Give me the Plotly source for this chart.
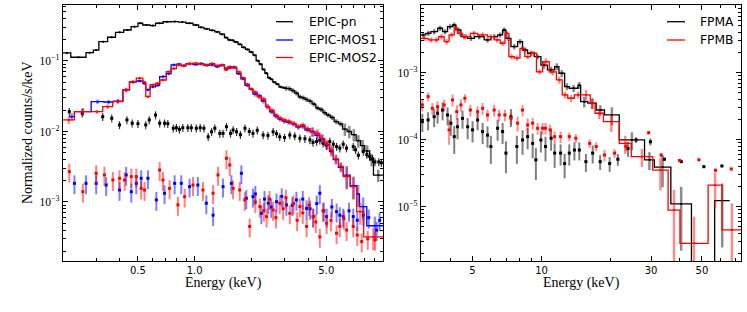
import math
import plotly.graph_objects as go

# ================= LEFT PANEL : XMM-Newton EPIC =================
pn_edges = [0.20, 0.22, 0.265, 0.29, 0.31, 0.345, 0.38, 0.42, 0.46, 0.50,
            0.53, 0.58, 0.62, 0.68, 0.75, 0.82, 0.90, 0.98, 1.05, 1.12,
            1.20, 1.28, 1.36, 1.44, 1.50, 1.56, 1.62, 1.70, 1.78, 1.86,
            1.95, 2.04, 2.12, 2.20, 2.28, 2.36, 2.44, 2.52, 2.60, 2.70,
            2.80, 2.90, 3.00, 3.12, 3.25, 3.40, 3.55, 3.70, 3.85, 4.00,
            4.20, 4.40, 4.60, 4.80, 5.00, 5.25, 5.50, 5.80, 6.10, 6.45,
            6.80, 7.20, 7.60, 8.00, 8.50, 8.90, 10.0]
pn_vals = [0.130, 0.113, 0.131, 0.143, 0.188, 0.217, 0.255, 0.275, 0.307, 0.343,
           0.324, 0.318, 0.343, 0.360, 0.362, 0.356, 0.343, 0.324, 0.300, 0.285,
           0.272, 0.258, 0.240, 0.215, 0.199, 0.196, 0.186, 0.172, 0.156, 0.146,
           0.134, 0.121, 0.101, 0.090, 0.076, 0.067, 0.058, 0.055, 0.050, 0.047,
           0.043, 0.042, 0.041, 0.0405, 0.038, 0.035, 0.031, 0.030, 0.0285, 0.027,
           0.0245, 0.0215, 0.0205, 0.0185, 0.0171, 0.0158, 0.0138, 0.0128, 0.0108, 0.0100,
           0.0090, 0.0074, 0.0063, 0.0053, 0.0040, 0.0024]
pn_err_bands = [(1.0, 0.03), (3.0, 0.04), (6.0, 0.08), (10.0, 0.2)]

mos1_edges = [0.215, 0.23, 0.282, 0.33, 0.37, 0.416, 0.451, 0.49, 0.531, 0.55,
              0.58, 0.62, 0.652, 0.707, 0.75, 0.80, 0.85, 0.90, 0.98, 1.05,
              1.12, 1.20, 1.28, 1.36, 1.44, 1.50, 1.58, 1.67, 1.76, 1.85,
              1.95, 2.04, 2.15, 2.26, 2.38, 2.50, 2.64, 2.77, 2.92, 3.07,
              3.25, 3.45, 3.65, 3.85, 4.10, 4.35, 4.62, 4.90, 5.20, 5.45,
              5.80, 6.15, 6.70, 7.25, 7.50, 8.20, 10.0]
mos1_vals = [0.0162, 0.0191, 0.0265, 0.0262, 0.027, 0.0388, 0.050, 0.052, 0.048, 0.039,
             0.043, 0.045, 0.060, 0.066, 0.088, 0.090, 0.086, 0.091, 0.089, 0.092,
             0.087, 0.088, 0.083, 0.087, 0.078, 0.080, 0.082, 0.066, 0.056, 0.045,
             0.040, 0.034, 0.032, 0.027, 0.0225, 0.019, 0.0165, 0.0150, 0.0140, 0.0135,
             0.0128, 0.0115, 0.0118, 0.0105, 0.0100, 0.0088, 0.0078, 0.0064, 0.0052, 0.0040,
             0.0031, 0.0024, 0.0017, 0.0013, 0.00086, 0.00046]

mos2_edges = [0.20, 0.23, 0.282, 0.325, 0.367, 0.416, 0.451, 0.49, 0.531, 0.55,
              0.58, 0.62, 0.652, 0.707, 0.75, 0.80, 0.85, 0.90, 0.98, 1.05,
              1.12, 1.20, 1.28, 1.36, 1.44, 1.50, 1.58, 1.67, 1.76, 1.85,
              1.95, 2.04, 2.15, 2.26, 2.38, 2.50, 2.64, 2.77, 2.92, 3.07,
              3.25, 3.45, 3.65, 3.85, 4.10, 4.35, 4.62, 4.90, 5.20, 5.45,
              5.80, 6.15, 6.70, 7.25, 7.90, 10.0]
mos2_vals = [0.0146, 0.0191, 0.0191, 0.0225, 0.0265, 0.0388, 0.051, 0.057, 0.050, 0.0312,
             0.046, 0.048, 0.0537, 0.0705, 0.078, 0.0878, 0.085, 0.092, 0.093, 0.090,
             0.088, 0.092, 0.086, 0.088, 0.075, 0.083, 0.080, 0.070, 0.058, 0.047,
             0.040, 0.036, 0.031, 0.029, 0.0225, 0.020, 0.0171, 0.0155, 0.0146, 0.0140,
             0.0130, 0.0118, 0.0124, 0.0110, 0.0098, 0.0094, 0.0080, 0.0066, 0.0055, 0.0041,
             0.0032, 0.0023, 0.00165, 0.00073, 0.00032]
mos_err_bands = [(0.3, 0.12), (0.45, 0.07), (2.0, 0.05), (4.0, 0.08), (6.0, 0.15), (10.0, 0.35)]

pn_bg_e = [0.216, 0.253, 0.325, 0.363, 0.399, 0.437, 0.466, 0.50, 0.55, 0.574,
           0.62, 0.652, 0.692, 0.72, 0.77, 0.80, 0.83, 0.865, 0.92, 0.96,
           1.02, 1.07, 1.12, 1.18, 1.23, 1.28, 1.36, 1.415, 1.475, 1.55,
           1.67, 1.85, 2.04, 2.31, 2.61, 2.83, 3.2, 3.62, 4.09, 4.44,
           4.81, 5.22, 5.67, 6.15, 6.4, 6.95, 7.4, 7.86, 8.5, 9.06, 9.5,
           1.6, 1.75, 1.95, 2.15, 2.45, 2.72, 3.0, 3.4, 3.85, 4.25,
           4.62, 5.0, 5.45, 5.9, 7.15, 8.2, 8.8, 9.8]
pn_bg_v = [0.0191, 0.0181, 0.0162, 0.0154, 0.0124, 0.0146, 0.0131, 0.0129, 0.0124, 0.0146,
           0.0171, 0.0131, 0.0131, 0.0129, 0.0111, 0.0113, 0.0107, 0.0113, 0.0113, 0.0113,
           0.0111, 0.0113, 0.0111, 0.0084, 0.0099, 0.0111, 0.0094, 0.0094, 0.0117, 0.0094,
           0.0099, 0.0111, 0.0094, 0.0089, 0.0099, 0.0084, 0.0089, 0.0080, 0.0076, 0.0072,
           0.0068, 0.0072, 0.0061, 0.0066, 0.0058, 0.0061, 0.0046, 0.0052, 0.0044, 0.0037, 0.0037,
           0.0105, 0.0090, 0.0100, 0.0104, 0.0088, 0.0093, 0.0082, 0.0086, 0.0079, 0.0070,
           0.0075, 0.0064, 0.0066, 0.0058, 0.0055, 0.0047, 0.0041, 0.0036]
pn_bg_rel = 0.13

mos1_bg_e = [0.23, 0.265, 0.30, 0.339, 0.399, 0.433, 0.461, 0.49, 0.52, 0.565,
             0.626, 0.692, 0.783, 0.849, 0.94, 1.04, 1.153, 1.253, 1.415, 1.567,
             1.77, 1.88, 2.04, 2.26, 2.46, 2.72, 3.07, 3.47, 3.93, 4.26,
             4.62, 5.02, 5.67, 6.15, 6.95, 7.86, 9.25,
             2.1, 2.35, 2.55, 2.9, 3.3, 3.75, 4.1, 4.45, 4.85, 5.35,
             5.9, 6.6, 7.3, 8.4, 9.6]
mos1_bg_v = [1.84e-3, 1.84e-3, 1.84e-3, 1.74e-3, 1.48e-3, 2.42e-3, 1.40e-3, 1.84e-3, 2.17e-3, 2.17e-3,
             1.07e-3, 1.33e-3, 1.84e-3, 1.84e-3, 1.65e-3, 1.74e-3, 9.6e-4, 6.5e-4, 1.65e-3, 1.84e-3,
             2.55e-3, 1.13e-3, 1.19e-3, 6.9e-4, 9.6e-4, 1.01e-3, 9.1e-4, 1.07e-3, 8.1e-4, 6.2e-4,
             1.33e-3, 6.2e-4, 7.3e-4, 6.2e-4, 6.2e-4, 6.5e-4, 4.0e-4,
             1.3e-3, 1.1e-3, 8.5e-4, 1.2e-3, 9.0e-4, 1.1e-3, 8.0e-4, 9.5e-4, 7.5e-4, 8.5e-4,
             6.5e-4, 7.5e-4, 5.5e-4, 6.0e-4, 5.5e-4]

mos2_bg_e = [0.216, 0.255, 0.300, 0.332, 0.368, 0.399, 0.425, 0.461, 0.49, 0.52,
             0.542, 0.652, 0.679, 0.736, 0.815, 0.885, 0.98, 1.107, 1.253, 1.33,
             1.475, 1.536, 1.60, 1.735, 1.845, 1.96, 2.22, 2.41, 2.61, 2.83,
             3.2, 3.62, 3.93, 4.26, 4.62, 5.02, 5.67, 6.41, 6.95, 7.71, 9.06,
             2.1, 2.33, 2.5, 2.7, 2.95, 3.05, 3.35, 3.5, 3.75, 4.05,
             4.4, 4.8, 5.3, 5.9, 6.2, 7.3, 8.3]
mos2_bg_v = [2.69e-3, 1.40e-3, 2.55e-3, 2.42e-3, 2.05e-3, 2.17e-3, 2.05e-3, 2.29e-3, 2.29e-3, 1.56e-3,
             1.48e-3, 2.84e-3, 2.05e-3, 1.56e-3, 9.1e-4, 1.19e-3, 1.74e-3, 1.48e-3, 1.33e-3, 2.42e-3,
             4.17e-3, 3.35e-3, 1.56e-3, 1.48e-3, 1.07e-3, 4.5e-4, 8.6e-4, 6.2e-4, 7.7e-4, 9.6e-4,
             6.9e-4, 8.6e-4, 4.5e-4, 6.2e-4, 3.2e-4, 5.0e-4, 3.6e-4, 4.0e-4, 4.5e-4, 2.75e-4, 2.9e-4,
             1.0e-3, 7.5e-4, 1.1e-3, 6.0e-4, 8.0e-4, 1.15e-3, 9.5e-4, 5.5e-4, 7.0e-4, 9.0e-4,
             5.2e-4, 7.5e-4, 5.5e-4, 4.5e-4, 5.8e-4, 3.4e-4, 3.0e-4]
mos_bg_rel = 0.3

# ================= RIGHT PANEL : NuSTAR FPMA / FPMB =================
fpma_edges = [2.97, 3.13, 3.29, 3.52, 3.70, 3.89, 4.09, 4.23, 4.45, 4.76,
              5.09, 5.62, 6.01, 6.43, 6.76, 6.99, 7.35, 7.86, 8.26, 8.69,
              9.29, 9.93, 10.6, 11.4, 11.9, 12.6, 13.2, 14.4, 14.8, 15.9,
              17.3, 18.8, 21.8, 28.1, 31.0, 36.6, 45.0, 56.8, 66.1]
fpma_vals = [3.66e-3, 3.87e-3, 4.09e-3, 4.6e-3, 4.09e-3, 4.86e-3, 5.15e-3, 4.34e-3, 3.45e-3, 3.26e-3,
             3.45e-3, 3.08e-3, 3.45e-3, 3.66e-3, 4.34e-3, 3.26e-3, 2.45e-3, 2.9e-3, 2.18e-3, 1.95e-3,
             1.73e-3, 1.30e-3, 1.10e-3, 1.23e-3, 9.8e-4, 6.2e-4, 5.85e-4, 6.5e-4, 3.69e-4, 3.5e-4,
             2.77e-4, 2.34e-4, 9.9e-5, 5.0e-5, 3.9e-5, 1.1e-5, 0.0, 1.23e-5]
fpma_err_bands = [(10.0, 0.09), (15.0, 0.12), (20.0, 0.18), (30.0, 0.3), (36.0, 0.5), (80.0, 0.8)]

fpmb_edges = [2.97, 3.20, 3.40, 3.56, 3.76, 3.95, 4.16, 4.30, 4.52, 4.89,
              5.26, 5.81, 6.21, 6.60, 6.92, 7.20, 7.60, 8.05, 8.45, 8.95,
              9.50, 10.1, 10.8, 11.6, 12.3, 13.0, 13.9, 15.0, 16.3, 17.1,
              18.6, 21.8, 24.6, 30.5, 35.6, 40.1, 53.2, 61.2, 74.5]
fpmb_vals = [3.26e-3, 3.08e-3, 3.08e-3, 3.45e-3, 2.9e-3, 3.66e-3, 4.6e-3, 3.87e-3, 3.45e-3, 3.87e-3,
             3.66e-3, 3.45e-3, 3.08e-3, 2.75e-3, 3.87e-3, 1.73e-3, 1.65e-3, 2.31e-3, 1.73e-3, 1.95e-3,
             1.03e-3, 1.46e-3, 1.03e-3, 7.8e-4, 4.65e-4, 4.15e-4, 4.65e-4, 4.65e-4, 3.5e-4, 2.48e-4,
             1.86e-4, 8.8e-5, 5.6e-5, 3.5e-5, 8.9e-6, 2.84e-6, 2.1e-5, 4.5e-6]
fpmb_err_bands = [(10.0, 0.09), (15.0, 0.12), (20.0, 0.18), (30.0, 0.3), (35.0, 0.5),
                  (40.0, 1.0), (53.0, 1.5), (61.0, 0.55), (80.0, 1.5)]

fpma_bg_e = [3.02, 3.20, 3.40, 3.52, 3.70, 3.89, 4.02, 4.16, 4.30, 4.52,
             4.76, 5.0, 5.26, 5.53, 5.81, 6.01, 6.43, 6.76, 6.99, 7.35,
             7.80, 8.26, 8.69, 9.14, 9.44, 9.93, 10.4, 11.0, 11.4, 12.1,
             12.6, 13.2, 13.9, 14.6, 15.6, 16.7, 18.0, 19.8, 21.5, 23.8,
             25.8, 29.8, 34.3, 40.6, 51.0, 61.1]
fpma_bg_v = [1.86e-4, 1.97e-4, 2.2e-4, 2.48e-4, 2.77e-4, 2.34e-4, 1.76e-4, 1.11e-4, 1.56e-4, 2.08e-4,
             1.56e-4, 1.40e-4, 1.97e-4, 1.32e-4, 1.17e-4, 7.9e-5, 1.48e-4, 1.32e-4, 6.3e-5, 2.2e-4,
             7.9e-5, 9.9e-5, 1.11e-4, 8.8e-5, 5.0e-5, 9.9e-5, 7.9e-5, 1.05e-4, 6.3e-5, 6.3e-5,
             4.4e-5, 6.3e-5, 7.0e-5, 7.0e-5, 4.7e-5, 6.3e-5, 4.7e-5, 4.4e-5, 5.1e-5, 7.4e-5,
             9.9e-5, 9.3e-5, 5.1e-5, 4.7e-5, 3.95e-5, 4.05e-5]
fpma_bg_err = [0.3, 0.3, 0.3, 0.3, 0.3, 0.3, 0.35, 0.45, 0.35, 0.3,
               0.35, 0.35, 0.3, 0.35, 0.35, 0.45, 0.35, 0.35, 0.5, 0.3,
               0.45, 0.4, 0.35, 0.4, 0.5, 0.35, 0.4, 0.35, 0.4, 0.35,
               0.4, 0.35, 0.3, 0.3, 0.3, 0.3, 0.25, 0.25, 0.2, 0.25,
               0.1, 0.12, 0.06, 0.05, 0.04, 0.04]

fpmb_bg_e = [3.02, 3.20, 3.34, 3.52, 3.76, 3.95, 4.09, 4.27, 4.45, 4.63,
             4.89, 5.26, 5.53, 5.81, 6.21, 6.53, 6.92, 7.35, 7.86, 8.26,
             8.69, 9.14, 9.61, 10.1, 10.4, 10.9, 11.4, 12.1, 13.2, 14.1,
             16.2, 17.3, 18.8, 20.8, 23.3, 29.3, 33.2, 39.9, 48.5, 57.3, 67.1]
fpmb_bg_v = [3.30e-4, 4.39e-4, 2.94e-4, 3.11e-4, 3.30e-4, 1.40e-4, 3.92e-4, 2.62e-4, 3.30e-4, 4.15e-4,
             2.77e-4, 2.62e-4, 2.94e-4, 2.34e-4, 2.77e-4, 2.34e-4, 2.34e-4, 2.08e-4, 1.76e-4, 2.77e-4,
             1.66e-4, 1.76e-4, 1.48e-4, 1.48e-4, 1.48e-4, 1.40e-4, 1.11e-4, 1.11e-4, 1.11e-4, 1.05e-4,
             8.8e-5, 7.9e-5, 5.9e-5, 6.3e-5, 7.9e-5, 1.27e-4, 5.9e-5, 4.9e-5, 5.0e-5, 3.5e-5, 3.65e-5]
fpmb_bg_err = [0.2, 0.15, 0.2, 0.2, 0.2, 0.4, 0.2, 0.25, 0.2, 0.15,
               0.2, 0.2, 0.2, 0.2, 0.2, 0.2, 0.2, 0.2, 0.25, 0.2,
               0.25, 0.2, 0.2, 0.2, 0.2, 0.2, 0.2, 0.2, 0.15, 0.15,
               0.15, 0.15, 0.2, 0.15, 0.15, 0.06, 0.08, 0.05, 0.05, 0.05, 0.05]

# ================= FIGURE =================
W, H = 747, 312
BLACK, BLUE, RED = "#000000", "#0000ff", "#ff0000"
fig = go.Figure()


def band_err(e, bands):
    for hi, r in bands:
        if e <= hi:
            return r
    return bands[-1][1]


def add_source(edges, vals, bands, color, ecol, xa, ya):
    cx, cy, up, dn = [], [], [], []
    for i, v in enumerate(vals):
        if v <= 0:
            continue
        c = math.sqrt(edges[i] * edges[i + 1])
        r = band_err(c, bands)
        cx.append(c)
        cy.append(v)
        up.append(v * r)
        dn.append(min(v * r, v * 0.999))
    fig.add_trace(go.Scatter(
        x=cx, y=cy, mode="markers", xaxis=xa, yaxis=ya, hoverinfo="skip",
        marker=dict(size=2, color=color),
        error_y=dict(type="data", array=up, arrayminus=dn, color=ecol, thickness=2.5, width=0),
        showlegend=False))
    ys = [v if v > 0 else 1e-12 for v in vals]
    ys = ys + [ys[-1]]
    fig.add_trace(go.Scatter(
        x=edges, y=ys, mode="lines", xaxis=xa, yaxis=ya, hoverinfo="skip",
        line=dict(color=color, width=1.3, shape="hv"), showlegend=False))


def add_bg(es, vs, rel, color, ecol, xa, ya, thick=1.6):
    rels = rel if isinstance(rel, list) else [rel] * len(vs)
    up = [v * r for v, r in zip(vs, rels)]
    dn = [min(v * r, v * 0.95) for v, r in zip(vs, rels)]
    xe = [e * 0.012 for e in es]
    fig.add_trace(go.Scatter(
        x=es, y=vs, mode="markers", xaxis=xa, yaxis=ya, hoverinfo="skip",
        marker=dict(size=3, color=color, symbol="square"),
        error_y=dict(type="data", array=up, arrayminus=dn, color=ecol, thickness=thick, width=0),
        error_x=dict(type="data", array=xe, color=color, thickness=1, width=0),
        showlegend=False))


# left panel
add_source(pn_edges, pn_vals, pn_err_bands, BLACK, "rgba(0,0,0,0.45)", "x", "y")
add_bg(pn_bg_e, pn_bg_v, pn_bg_rel, BLACK, "rgba(0,0,0,0.8)", "x", "y", thick=1.2)
add_source(mos1_edges, mos1_vals, mos_err_bands, BLUE, "rgba(0,0,255,0.45)", "x", "y")
add_bg(mos1_bg_e, mos1_bg_v, mos_bg_rel, BLUE, "rgba(0,0,255,0.5)", "x", "y", thick=2)
add_source(mos2_edges, mos2_vals, mos_err_bands, RED, "rgba(255,0,0,0.45)", "x", "y")
add_bg(mos2_bg_e, mos2_bg_v, mos_bg_rel, RED, "rgba(255,0,0,0.5)", "x", "y", thick=2)

# right panel
add_source(fpma_edges, fpma_vals, fpma_err_bands, BLACK, "rgba(0,0,0,0.45)", "x2", "y2")
add_bg(fpma_bg_e, fpma_bg_v, fpma_bg_err, BLACK, "rgba(0,0,0,0.5)", "x2", "y2", thick=2)
add_source(fpmb_edges, fpmb_vals, fpmb_err_bands, RED, "rgba(255,0,0,0.45)", "x2", "y2")
add_bg(fpmb_bg_e, fpmb_bg_v, fpmb_bg_err, RED, "rgba(255,0,0,0.45)", "x2", "y2", thick=2)

# ---------- axes ----------
def log_minor(lo_exp, hi_exp):
    out = []
    for p in range(lo_exp, hi_exp + 1):
        for m in range(2, 10):
            out.append(m * 10 ** p)
    return out


def sup_label(p):
    return "10<sup>%s</sup>" % ("\u2212" + str(-p) if p < 0 else str(p))


common = dict(type="log", showgrid=False, zeroline=False, showline=True, linecolor="black",
              linewidth=1.2, mirror="allticks", ticks="inside", ticklen=5, tickwidth=1,
              tickcolor="black")
xfont = dict(family="DejaVu Sans", size=10, color="black")
yfont = dict(family="Liberation Serif", size=11.5, color="black")

yd = [1 - 261 / H, 1 - 5 / H]

fig.update_layout(
    width=W, height=H, paper_bgcolor="white", plot_bgcolor="white",
    margin=dict(l=0, r=0, t=0, b=0), showlegend=False,
    xaxis=dict(common, domain=[63 / W, 383 / W], range=[math.log10(0.2), 1.0], anchor="y",
               tickvals=[0.5, 1.0, 5.0], ticktext=["0.5", "1.0", "5.0"], tickfont=xfont,
               minor=dict(tickvals=[0.3, 0.4, 0.6, 0.7, 0.8, 0.9, 2, 3, 4, 6, 7, 8, 9],
                          ticks="inside", ticklen=2.5, tickcolor="black", showgrid=False)),
    yaxis=dict(common, domain=yd, range=[-3.837, -0.206], anchor="x",
               tickvals=[1e-3, 1e-2, 1e-1], ticktext=[sup_label(-3), sup_label(-2), sup_label(-1)],
               tickfont=yfont,
               minor=dict(tickvals=log_minor(-4, -1), ticks="inside", ticklen=2.5,
                          tickcolor="black", showgrid=False)),
    xaxis2=dict(common, domain=[421 / W, 741 / W], range=[math.log10(2.98), math.log10(74.0)],
                anchor="y2", tickvals=[5, 10, 30, 50], ticktext=["5", "10", "30", "50"],
                tickfont=xfont,
                minor=dict(tickvals=[3, 4, 6, 7, 8, 9, 20, 40, 60, 70], ticks="inside",
                           ticklen=2.5, tickcolor="black", showgrid=False)),
    yaxis2=dict(common, domain=yd, range=[-5.811, -1.99], anchor="x2",
                tickvals=[1e-5, 1e-4, 1e-3], ticktext=[sup_label(-5), sup_label(-4), sup_label(-3)],
                tickfont=yfont,
                minor=dict(tickvals=log_minor(-6, -2), ticks="inside", ticklen=2.5,
                           tickcolor="black", showgrid=False)),
)

# ---------- titles ----------
tfont = dict(family="Liberation Serif", size=14, color="black")
ann = [
    dict(text="Energy (keV)", x=223 / W, y=1 - 283 / H, xref="paper", yref="paper",
         showarrow=False, font=tfont, xanchor="center", yanchor="middle"),
    dict(text="Energy (keV)", x=581 / W, y=1 - 283 / H, xref="paper", yref="paper",
         showarrow=False, font=tfont, xanchor="center", yanchor="middle"),
    dict(text="Normalized counts/s/keV", x=27 / W, y=1 - 133 / H, xref="paper", yref="paper",
         showarrow=False, font=tfont, textangle=-90, xanchor="center", yanchor="middle"),
]

# ---------- legends (drawn) ----------
lfont = dict(family="DejaVu Sans", size=12.3, color="black")
shapes = []
left_leg = [("EPIC-pn", BLACK, 21.7), ("EPIC-MOS1", BLUE, 40.0), ("EPIC-MOS2", RED, 57.5)]
right_leg = [("FPMA", BLACK, 21.7), ("FPMB", RED, 40.0)]
for items, lx0, lx1, tx in [(left_leg, 276, 293, 307), (right_leg, 667, 685, 698)]:
    for name, col, py in items:
        shapes.append(dict(type="line", xref="paper", yref="paper", x0=lx0 / W, x1=lx1 / W,
                           y0=1 - py / H, y1=1 - py / H, line=dict(color=col, width=1.3)))
        ann.append(dict(text=name, x=tx / W, y=1 - py / H, xref="paper", yref="paper",
                        showarrow=False, font=lfont, xanchor="left", yanchor="middle"))

fig.update_layout(annotations=ann, shapes=shapes)
fig.write_html("out.html", config={"displayModeBar": False},
               post_script="document.body.style.margin='0px';document.body.style.padding='0px';")
